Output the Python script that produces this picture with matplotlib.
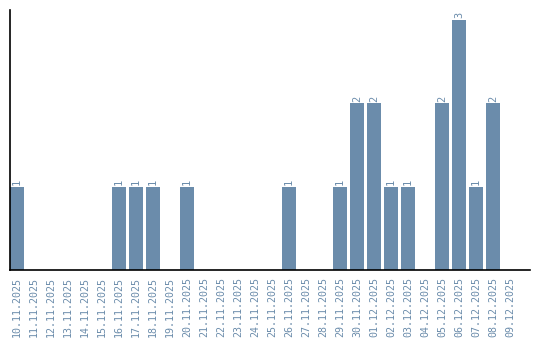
import matplotlib.pyplot as plt

DATES = [
    "10.11.2025", "11.11.2025", "12.11.2025", "13.11.2025", "14.11.2025",
    "15.11.2025", "16.11.2025", "17.11.2025", "18.11.2025", "19.11.2025",
    "20.11.2025", "21.11.2025", "22.11.2025", "23.11.2025", "24.11.2025",
    "25.11.2025", "26.11.2025", "27.11.2025", "28.11.2025", "29.11.2025",
    "30.11.2025", "01.12.2025", "02.12.2025", "03.12.2025", "04.12.2025",
    "05.12.2025", "06.12.2025", "07.12.2025", "08.12.2025", "09.12.2025",
]
COUNTS = [1, 0, 0, 0, 0, 0, 1, 1, 1, 0,
          1, 0, 0, 0, 0, 0, 1, 0, 0, 1,
          2, 2, 1, 1, 0, 2, 3, 1, 2, 0]

BAR_COLOR = "#6b8cab"
TEXT_COLOR = "#6b8cab"
BAR_WIDTH = 14 / 17


def main() -> None:
    fig = plt.figure(figsize=(5.4, 3.4), dpi=100)
    ax = fig.add_axes([10 / 540, 70 / 340, 520 / 540, 260 / 340])

    x = list(range(len(DATES)))
    ax.bar(x, COUNTS, width=BAR_WIDTH, color=BAR_COLOR)

    for xi, c in zip(x, COUNTS):
        if c > 0:
            ax.text(xi, c + 0.02, str(c), rotation=90, ha="center", va="bottom",
                    color=TEXT_COLOR, fontsize=7.5, family="DejaVu Sans Mono")

    ax.set_xlim(-BAR_WIDTH / 2, len(DATES) - 1 + 20 / 17)
    ax.set_ylim(0, 260 / 83.3)
    ax.set_xticks(x)
    ax.set_xticklabels(DATES, rotation=90, color=TEXT_COLOR, fontsize=7.2,
                       family="DejaVu Sans Mono")
    ax.tick_params(axis="x", length=0, pad=5)
    ax.set_yticks([])

    for side in ("top", "right"):
        ax.spines[side].set_visible(False)
    ax.spines["left"].set_color("black")
    ax.spines["bottom"].set_color("black")
    ax.spines["left"].set_linewidth(1.2)
    ax.spines["bottom"].set_linewidth(1.2)

    fig.savefig("out.png", dpi=100)


if __name__ == "__main__":
    main()
